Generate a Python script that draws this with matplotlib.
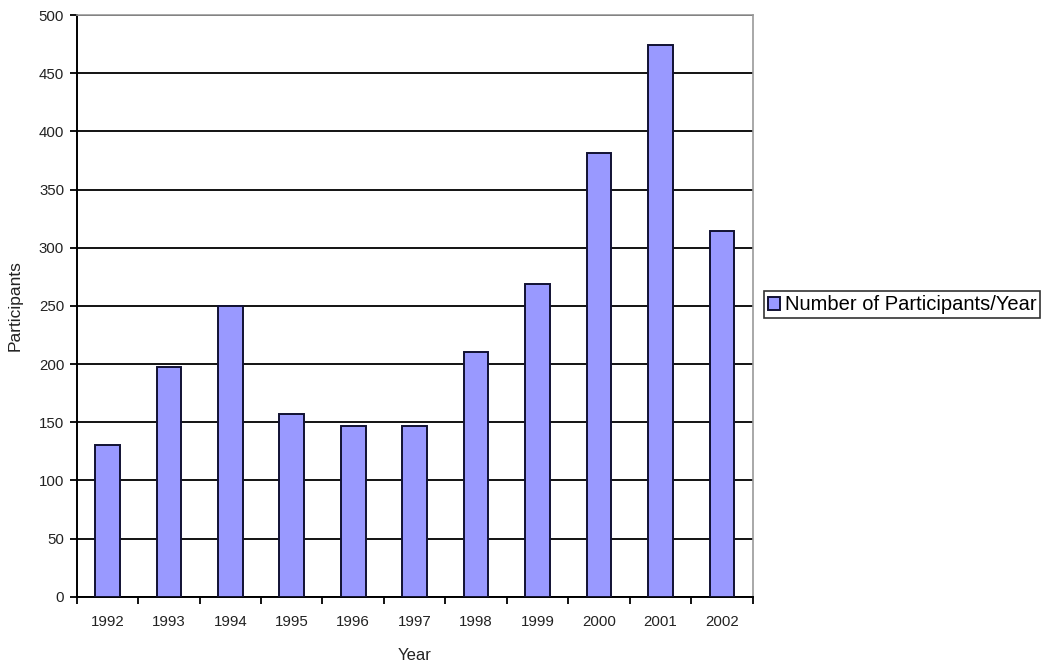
import matplotlib.pyplot as plt
import numpy as np
from matplotlib.ticker import FixedLocator, MultipleLocator

plt.rcParams["font.family"] = ["Liberation Sans", "DejaVu Sans"]

years = ["1992", "1993", "1994", "1995", "1996", "1997",
         "1998", "1999", "2000", "2001", "2002"]
participants = [130, 197, 250, 157, 147, 147, 210, 269, 381, 474, 314]
series_name = "Number of Participants/Year"

fig = plt.figure(figsize=(10.49, 6.64), dpi=100)
ax = fig.add_axes([0.0731, 0.1014, 0.6444, 0.876])

x = np.arange(len(years))
bars = ax.bar(x, participants, width=0.4, color="#9999ff",
              edgecolor="#111133", linewidth=1.4, zorder=3,
              label=series_name)

ax.set_xlim(-0.5, len(years) - 0.5)
ax.set_ylim(0, 500)
ax.yaxis.set_major_locator(MultipleLocator(50))
ax.grid(axis="y", color="black", linewidth=1.3, zorder=1)

# ticks sit between categories, labels under the bars
ax.xaxis.set_major_locator(FixedLocator(np.arange(-0.5, len(years), 1.0)))
ax.xaxis.set_minor_locator(FixedLocator(x))
ax.set_xticklabels([])
ax.set_xticks(x, labels=years, minor=True)
ax.tick_params(axis="x", which="major", length=5, width=1.3, direction="out")
ax.tick_params(axis="x", which="minor", length=0, pad=13, labelsize=10.8,
               labelcolor="#222222")
ax.tick_params(axis="y", length=5, width=1.3, direction="out", pad=4,
               labelsize=10.8, labelcolor="#222222")

for side in ["top", "right"]:
    ax.spines[side].set_color("#999999")
    ax.spines[side].set_linewidth(1.2)
for side in ["left", "bottom"]:
    ax.spines[side].set_color("black")
    ax.spines[side].set_linewidth(1.4)

ax.set_xlabel("Year", fontsize=12, color="#222222", labelpad=14)
ax.set_ylabel("Participants", fontsize=12.5, color="#222222", labelpad=12)

leg = fig.legend(handles=[bars], labels=[series_name], loc="center left",
                 bbox_to_anchor=(0.728, 0.541), fontsize=14.5, frameon=True,
                 fancybox=False, edgecolor="black", handlelength=0.6,
                 handleheight=0.6, handletextpad=0.25, borderpad=0.2,
                 borderaxespad=0)
leg.get_frame().set_linewidth(1.2)

fig.savefig("out.png", dpi=100)
